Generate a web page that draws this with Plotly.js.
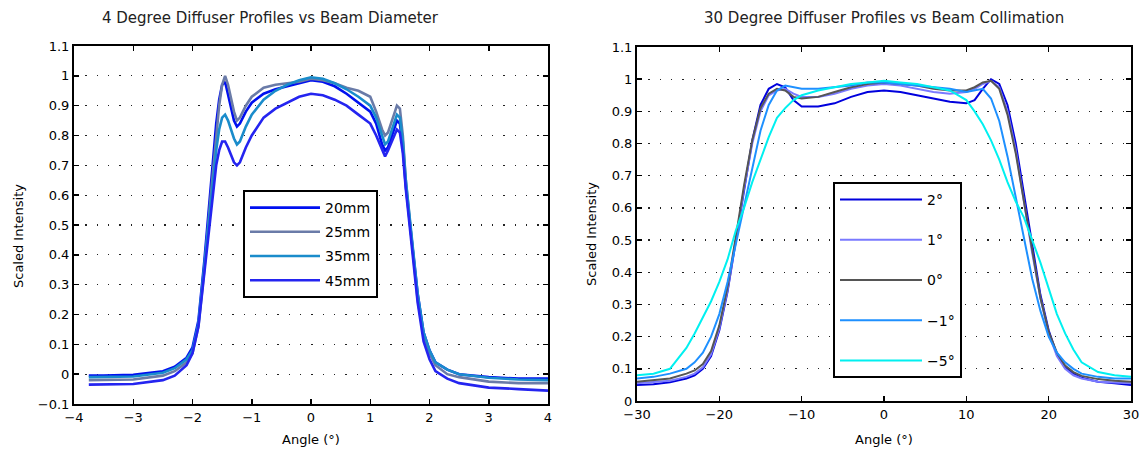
<!DOCTYPE html>
<html>
<head>
<meta charset="utf-8">
<script src="https://cdn.plot.ly/plotly-3.0.1.min.js"></script>
<style>
  html, body { margin: 0; padding: 0; background: #ffffff; }
  #chart { width: 1143px; height: 450px; }
</style>
</head>
<body>
<div id="chart"></div>
<script>
// ---------- Left panel: 4 degree diffuser vs beam diameter ----------
var leftAngle = [-3.75,-3.5,-3,-2.5,-2.3,-2.1,-2.0,-1.9,-1.8,-1.7,-1.6,-1.55,-1.5,-1.45,-1.4,-1.3,-1.25,-1.2,-1.1,-1.0,-0.8,-0.6,-0.4,-0.2,0,0.2,0.4,0.6,0.8,1.0,1.1,1.2,1.25,1.3,1.4,1.45,1.5,1.55,1.6,1.7,1.8,1.9,2.0,2.1,2.3,2.5,3,3.5,4];
var beam20mm = [-0.005,-0.005,-0.002,0.01,0.025,0.055,0.09,0.18,0.38,0.62,0.84,0.92,0.97,0.98,0.94,0.85,0.83,0.84,0.88,0.91,0.94,0.955,0.965,0.975,0.985,0.98,0.965,0.94,0.91,0.88,0.84,0.77,0.75,0.76,0.82,0.85,0.84,0.76,0.63,0.45,0.27,0.14,0.08,0.04,0.015,0.0,-0.01,-0.015,-0.015];
var beam25mm = [-0.02,-0.02,-0.018,-0.005,0.01,0.04,0.07,0.16,0.35,0.58,0.80,0.90,0.97,1.0,0.97,0.88,0.85,0.86,0.90,0.93,0.96,0.97,0.975,0.98,0.99,0.985,0.975,0.96,0.95,0.93,0.88,0.82,0.80,0.81,0.87,0.90,0.89,0.80,0.65,0.45,0.25,0.13,0.07,0.03,0.0,-0.01,-0.025,-0.03,-0.03];
var beam35mm = [-0.01,-0.01,-0.008,0.005,0.02,0.05,0.08,0.17,0.36,0.57,0.75,0.82,0.86,0.87,0.85,0.79,0.77,0.78,0.83,0.87,0.92,0.95,0.97,0.985,0.995,0.99,0.975,0.955,0.93,0.90,0.86,0.80,0.77,0.78,0.84,0.87,0.86,0.78,0.65,0.46,0.27,0.14,0.08,0.04,0.015,0.0,-0.012,-0.018,-0.02];
var beam45mm = [-0.035,-0.035,-0.033,-0.02,-0.005,0.03,0.07,0.16,0.34,0.54,0.70,0.75,0.78,0.78,0.76,0.71,0.70,0.71,0.76,0.80,0.86,0.89,0.91,0.93,0.94,0.935,0.92,0.90,0.87,0.84,0.80,0.75,0.73,0.75,0.80,0.82,0.81,0.74,0.62,0.43,0.24,0.11,0.05,0.01,-0.015,-0.03,-0.045,-0.05,-0.055];
var leftNames = ["20mm","25mm","35mm","45mm"];
var leftColors = ["#0010F0","#6A7BA8","#1A8CCB","#2424F0"];

// ---------- Right panel: 30 degree diffuser vs beam collimation ----------
var rightAngle = [-30,-28,-26,-24,-23,-22,-21,-20,-19,-18,-17,-16,-15,-14,-13,-12,-11,-10,-8,-6,-4,-2,0,2,4,6,8,10,11,12,13,14,15,16,17,18,19,20,21,22,23,24,26,28,30];
var coll2 = [0.05,0.052,0.058,0.07,0.08,0.1,0.14,0.22,0.34,0.5,0.66,0.81,0.92,0.97,0.985,0.975,0.935,0.915,0.915,0.925,0.945,0.96,0.965,0.96,0.95,0.94,0.93,0.925,0.935,0.97,1.0,0.985,0.92,0.8,0.64,0.48,0.33,0.22,0.145,0.105,0.085,0.072,0.06,0.055,0.05];
var coll1 = [0.055,0.058,0.063,0.075,0.085,0.105,0.145,0.225,0.345,0.5,0.66,0.8,0.9,0.95,0.965,0.97,0.955,0.945,0.945,0.955,0.97,0.98,0.985,0.98,0.97,0.96,0.955,0.96,0.97,0.985,0.995,0.975,0.9,0.78,0.62,0.46,0.32,0.21,0.14,0.1,0.08,0.07,0.06,0.057,0.055];
var coll0 = [0.06,0.065,0.07,0.085,0.095,0.115,0.155,0.235,0.355,0.51,0.67,0.81,0.91,0.955,0.97,0.965,0.945,0.94,0.945,0.96,0.975,0.985,0.99,0.985,0.98,0.97,0.965,0.965,0.975,0.99,0.995,0.97,0.89,0.77,0.62,0.46,0.32,0.215,0.15,0.11,0.09,0.078,0.068,0.063,0.06];
var collM1 = [0.07,0.075,0.085,0.1,0.12,0.15,0.2,0.27,0.37,0.49,0.61,0.73,0.84,0.92,0.965,0.98,0.975,0.97,0.97,0.975,0.98,0.99,0.99,0.985,0.98,0.975,0.97,0.96,0.965,0.97,0.94,0.87,0.76,0.63,0.5,0.38,0.28,0.2,0.15,0.12,0.1,0.085,0.075,0.07,0.07];
var collM5 = [0.08,0.085,0.1,0.165,0.21,0.26,0.31,0.37,0.44,0.53,0.6,0.68,0.75,0.82,0.88,0.91,0.935,0.95,0.965,0.975,0.985,0.99,0.995,0.99,0.985,0.975,0.965,0.935,0.9,0.86,0.81,0.75,0.68,0.62,0.57,0.5,0.43,0.35,0.27,0.21,0.16,0.12,0.09,0.08,0.075];
var rightNames = ["2°","1°","0°","\u22121°","\u22125°"];
var rightColors = ["#0000DD","#7A7AFF","#555555","#1E90FF","#00F0F0"];

var leftTicks = [-4,-3,-2,-1,0,1,2,3,4];
var rightTicks = [-30,-20,-10,0,10,20,30];

// ---------- build ----------
var W = 1143, H = 450;
function px(x){ return x / W; }
function py(y){ return 1 - y / H; }

var leftSeries = [beam20mm, beam25mm, beam35mm, beam45mm];
var rightSeries = [coll2, coll1, coll0, collM1, collM5];
var traces = [];
leftSeries.forEach(function(vals, i){
  traces.push({
    type: "scatter", mode: "lines", x: leftAngle, y: vals,
    name: leftNames[i], legendgroup: "L" + i, legend: "legend",
    line: {color: leftColors[i], width: 2.6},
    xaxis: "x", yaxis: "y", hoverinfo: "skip"
  });
});
rightSeries.forEach(function(vals, i){
  traces.push({
    type: "scatter", mode: "lines", x: rightAngle, y: vals,
    name: rightNames[i], legendgroup: "R" + i, legend: "legend2",
    line: {color: rightColors[i], width: 2},
    xaxis: "x2", yaxis: "y2", hoverinfo: "skip"
  });
});

var tickFont = {family: "DejaVu Sans, sans-serif", size: 13, color: "#000"};
function xAxis(domain, range, ticks){
  return {
    domain: domain, range: range, tickvals: ticks, ticks: "inside", ticklen: 5,
    tickwidth: 1.5, tickcolor: "#000", showline: true, linecolor: "#000", linewidth: 2,
    mirror: "ticks", showgrid: false, zeroline: false, tickfont: tickFont, fixedrange: true
  };
}
function yAxis(domain, range, anchor){
  return {
    domain: domain, range: range, dtick: 0.1, tick0: 0, ticks: "inside", ticklen: 5,
    tickwidth: 1.5, tickcolor: "#000", showline: true, linecolor: "#000", linewidth: 2,
    mirror: "ticks", showgrid: true, gridcolor: "#222", gridwidth: 1.3, griddash: "1.3px,10px",
    zeroline: false, tickfont: tickFont, anchor: anchor, fixedrange: true
  };
}

var annFont = {family: "DejaVu Sans, sans-serif", size: 15, color: "#222"};
var labFont = {family: "DejaVu Sans, sans-serif", size: 13, color: "#000"};
var layout = {
  width: W, height: H,
  margin: {l: 0, r: 0, t: 0, b: 0},
  paper_bgcolor: "#fff", plot_bgcolor: "#fff",
  showlegend: true,
  xaxis: xAxis([px(74), px(548)], [-4, 4], leftTicks),
  yaxis: yAxis([py(404), py(46)], [-0.1, 1.1], "x"),
  xaxis2: Object.assign(xAxis([px(637), px(1131)], [-30, 30], rightTicks), {anchor: "y2"}),
  yaxis2: yAxis([py(401), py(47)], [0, 1.1], "x2"),
  legend: {
    x: px(243), y: py(190), xanchor: "left", yanchor: "top",
    bordercolor: "#000", borderwidth: 2, bgcolor: "#fff",
    font: {family: "DejaVu Sans, sans-serif", size: 14, color: "#000"},
    itemwidth: 70, tracegroupgap: 3, traceorder: "grouped"
  },
  legend2: {
    x: px(833), y: py(182), xanchor: "left", yanchor: "top",
    bordercolor: "#000", borderwidth: 2, bgcolor: "#fff",
    font: {family: "DejaVu Sans, sans-serif", size: 14, color: "#000"},
    itemwidth: 82, tracegroupgap: 19, traceorder: "grouped"
  },
  annotations: [
    {text: "4 Degree Diffuser Profiles vs Beam Diameter", xref: "paper", yref: "paper",
     x: px(270), y: py(18), xanchor: "center", yanchor: "middle", showarrow: false, font: annFont},
    {text: "30 Degree Diffuser Profiles vs Beam Collimation", xref: "paper", yref: "paper",
     x: px(884), y: py(18), xanchor: "center", yanchor: "middle", showarrow: false, font: annFont},
    {text: "Angle (°)", xref: "paper", yref: "paper", x: px(311), y: py(439),
     xanchor: "center", yanchor: "middle", showarrow: false, font: labFont},
    {text: "Angle (°)", xref: "paper", yref: "paper", x: px(884), y: py(439),
     xanchor: "center", yanchor: "middle", showarrow: false, font: labFont},
    {text: "Scaled Intensity", xref: "paper", yref: "paper", x: px(18), y: py(236),
     xanchor: "center", yanchor: "middle", textangle: -90, showarrow: false, font: labFont},
    {text: "Scaled Intensity", xref: "paper", yref: "paper", x: px(591), y: py(234),
     xanchor: "center", yanchor: "middle", textangle: -90, showarrow: false, font: labFont}
  ]
};

Plotly.newPlot("chart", traces, layout, {displayModeBar: false, staticPlot: true});
</script>
</body>
</html>
